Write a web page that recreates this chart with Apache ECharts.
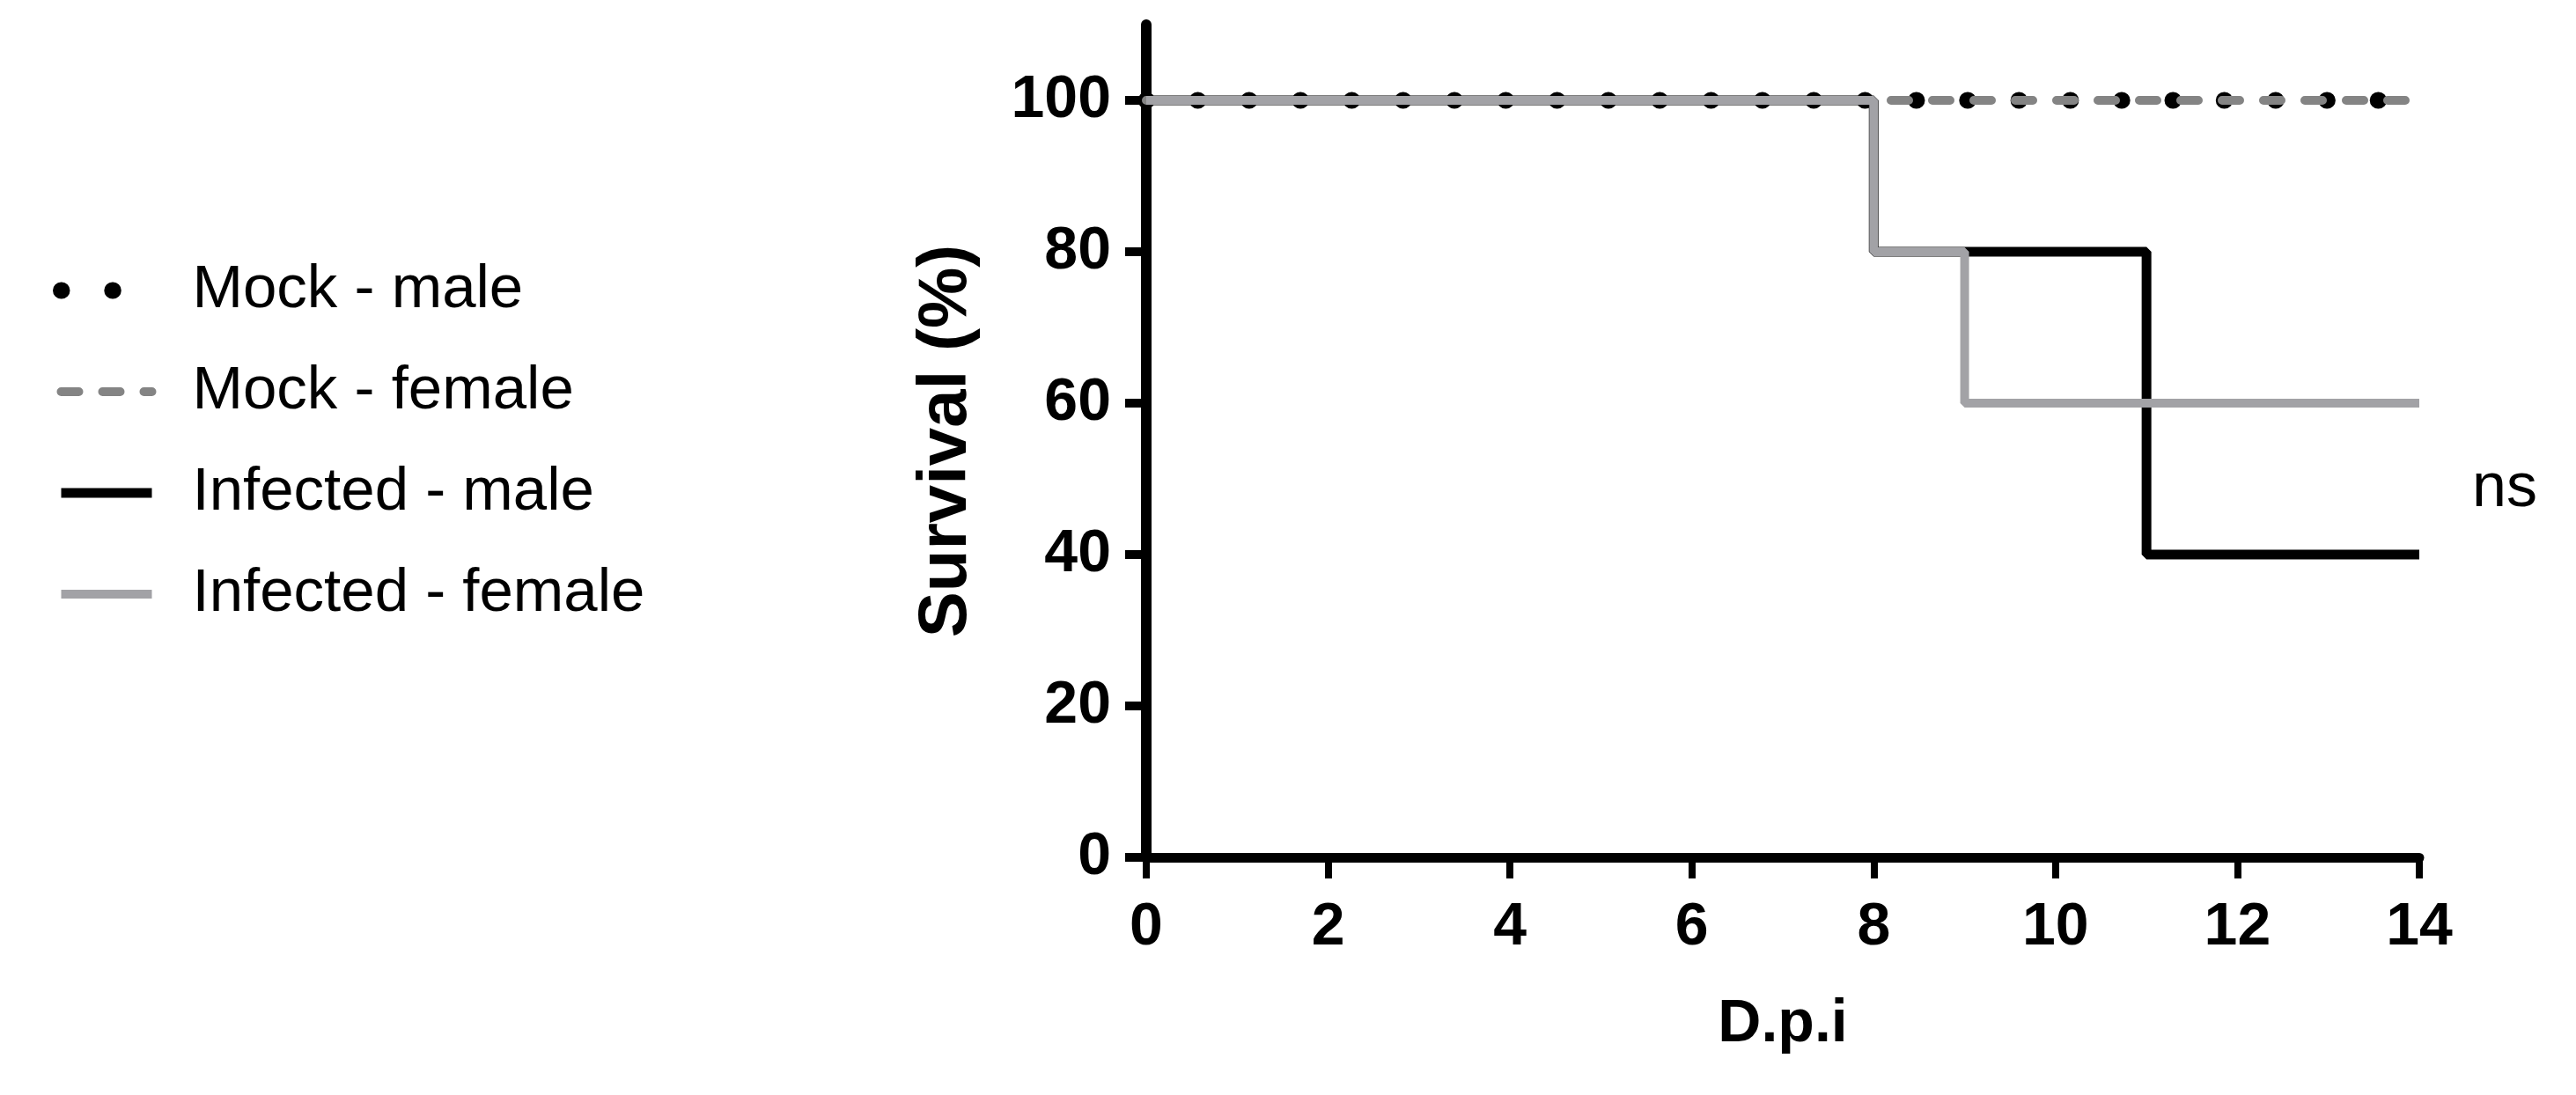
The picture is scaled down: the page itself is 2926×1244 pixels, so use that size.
<!DOCTYPE html>
<html>
<head>
<meta charset="utf-8">
<script src="https://cdn.jsdelivr.net/npm/echarts@6/dist/echarts.min.js"></script>
<style>
html, body { margin: 0; padding: 0; background: #fff; }
#chart { width: 2926px; height: 1244px; }
</style>
</head>
<body>
<div id="chart"></div>
<script>
// days post infection and survival (%) per group
const mockMaleDays = [0, 14];
const mockMaleSurvival = [100, 100];
const mockFemaleDays = [0, 14];
const mockFemaleSurvival = [100, 100];
const infMaleDays = [0, 8, 11, 14];
const infMaleSurvival = [100, 80, 40, 40];
const infFemaleDays = [0, 8, 9, 14];
const infFemaleSurvival = [100, 80, 60, 60];

const groupNames = ['Mock - male', 'Mock - female', 'Infected - male', 'Infected - female'];
const xTicks = [0, 2, 4, 6, 8, 10, 12, 14];
const yTicks = [0, 20, 40, 60, 80, 100];

const FONT = '"Liberation Sans", Arial, sans-serif';
const pair = (xs, ys) => xs.map((x, i) => [x, ys[i]]);

const styles = [
    { color: '#000000', width: 19, type: [0.5, 57.8], cap: 'round' },
    { color: '#848484', width: 10, type: [20, 27], cap: 'round' },
    { color: '#000000', width: 11, type: 'solid', cap: 'butt' },
    { color: '#a2a2a6', width: 10, type: 'solid', cap: 'butt' }
];
const datasets = [
    pair(mockMaleDays, mockMaleSurvival),
    pair(mockFemaleDays, mockFemaleSurvival),
    pair(infMaleDays, infMaleSurvival),
    pair(infFemaleDays, infFemaleSurvival)
];

const chart = echarts.init(document.getElementById('chart'));
chart.setOption({
    animation: false,
    backgroundColor: '#fff',
    grid: { left: 1302, right: 178, top: 28, bottom: 270, containLabel: false },
    xAxis: {
        type: 'value', min: 0, max: 14, interval: 2,
        name: 'D.p.i', nameLocation: 'middle', nameGap: 156,
        nameTextStyle: { fontFamily: FONT, fontWeight: 'bold', fontSize: 68, color: '#000' },
        axisLine: { lineStyle: { color: '#000', width: 11 } },
        axisTick: { length: 24, lineStyle: { color: '#000', width: 8 }, customValues: xTicks },
        axisLabel: { margin: 46, fontFamily: FONT, fontWeight: 'bold', fontSize: 68, color: '#000', customValues: xTicks },
        splitLine: { show: false }
    },
    yAxis: {
        type: 'value', min: 0, max: 110, interval: 10,
        name: 'Survival (%)', nameLocation: 'middle', nameGap: 188,
        nameTextStyle: { fontFamily: FONT, fontWeight: 'bold', fontSize: 78, color: '#000' },
        axisLine: { show: true, lineStyle: { color: '#000', width: 12 } },
        axisTick: { show: true, length: 24, lineStyle: { color: '#000', width: 10 }, customValues: yTicks },
        axisLabel: { margin: 40, fontFamily: FONT, fontWeight: 'bold', fontSize: 68, color: '#000', customValues: yTicks },
        splitLine: { show: false }
    },
    legend: {
        orient: 'vertical', left: 55, top: 290,
        itemWidth: 103, itemHeight: 20, itemGap: 45,
        itemStyle: { opacity: 0 },
        textStyle: { fontFamily: FONT, fontSize: 69, color: '#000', lineHeight: 70, padding: [0, 0, 0, 41] },
        data: groupNames.map((n, i) => ({
            name: n,
            lineStyle: { color: styles[i].color, width: styles[i].width, type: styles[i].type, cap: styles[i].cap }
        }))
    },
    graphic: [{
        type: 'text', left: 2808, top: 521,
        style: { text: 'ns', fontFamily: FONT, fontSize: 70, fill: '#000' }
    }],
    series: groupNames.map((n, i) => ({
        name: n,
        type: 'line',
        step: 'end',
        symbol: 'none',
        data: datasets[i],
        lineStyle: { color: styles[i].color, width: styles[i].width, type: styles[i].type, cap: styles[i].cap },
        itemStyle: { color: styles[i].color }
    }))
});
</script>
</body>
</html>
